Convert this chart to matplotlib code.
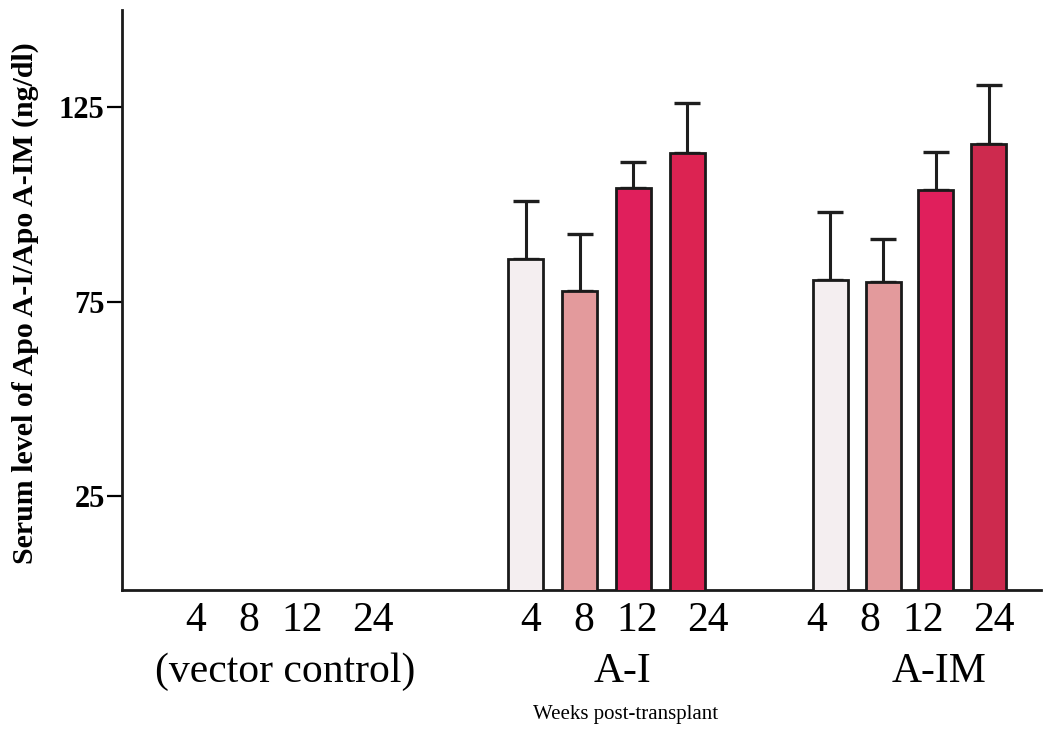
import matplotlib
matplotlib.use('Agg')
import matplotlib.pyplot as plt
import matplotlib.transforms as mtransforms

plt.rcParams['font.family'] = ['Liberation Serif', 'DejaVu Serif']

# data
weeks = ['4', '8', '12', '24']
groups = ['(vector control)', 'A-I', 'A-IM']
ai_mean = [85.9, 77.8, 104.1, 113.1]
ai_err = [15.0, 14.5, 6.9, 13.1]
aim_mean = [80.5, 80.0, 103.8, 115.5]
aim_err = [17.5, 11.2, 9.8, 15.1]
yticks = [25, 75, 125]

# layout (x in pixel-like units of the original figure)
bar_groups = [(606.5, 53.7, ai_mean, ai_err, ['#f4eef0', '#e39a9c', '#e01f5c', '#dc2352']),
              (909.5, 52.7, aim_mean, aim_err, ['#f4eef0', '#e39a9c', '#e01f5c', '#cd2a4e'])]
label_starts = [196, 531, 817]
label_offsets = [0, 53, 106, 177]
group_label_x = [285, 622, 939]

fig = plt.figure(figsize=(10.5, 7.39), dpi=100)
ax = fig.add_axes([122/1050, 1-590/739, (1041-122)/1050, (590-10)/739])

for center, step, vals, errs, cols in bar_groups:
    xs = [center + (i - 1.5)*step for i in range(len(vals))]
    ax.errorbar(xs, vals, yerr=[[0]*len(errs), errs], fmt='none', ecolor='#1e1e1e',
                elinewidth=2.2, capsize=9.5, capthick=2.4, zorder=2)
    ax.bar(xs, vals, width=35, color=cols, edgecolor='#1a1a1a', linewidth=2, zorder=3)

ax.set_xlim(122, 1041)
ax.set_ylim(0.8, 150)

ticks = []
tlabels = []
for s in label_starts:
    for off, w in zip(label_offsets, weeks):
        ticks.append(s + off)
        tlabels.append(w)
ax.set_xticks(ticks)
ax.set_xticklabels(tlabels, fontsize=30)
ax.tick_params(axis='x', length=0, pad=8)

ax.set_yticks(yticks)
ax.set_yticklabels([str(t) for t in yticks], fontsize=22, fontweight='bold')
ax.tick_params(axis='y', direction='out', length=11, width=1.6, pad=1.5)

for side in ['top', 'right']:
    ax.spines[side].set_visible(False)
for side in ['left', 'bottom']:
    ax.spines[side].set_linewidth(2)
    ax.spines[side].set_color('#1a1a1a')

trans = mtransforms.blended_transform_factory(ax.transData, fig.transFigure)
for gx, g in zip(group_label_x, groups):
    ax.text(gx, 1-672/739, g, transform=trans, ha='center', va='center', fontsize=30)

fig.text(626/1050, 1-715/739, 'Weeks post-transplant', ha='center', va='center', fontsize=15)
fig.text(25/1050, 1-303/739, 'Serum level of Apo A-I/Apo A-IM (ng/dl)', rotation=90,
         ha='center', va='center', fontsize=21.5, fontweight='bold')

fig.savefig('out.png', dpi=100, facecolor='white')
